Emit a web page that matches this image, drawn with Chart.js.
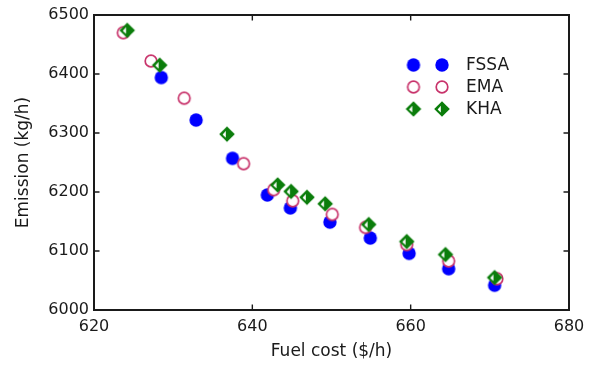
<!DOCTYPE html>
<html>
<head>
<meta charset="utf-8">
<script src="https://cdn.jsdelivr.net/npm/chart.js@4.4.1/dist/chart.umd.min.js"></script>
<style>
  html, body { margin: 0; padding: 0; background: #fff; }
  #wrap { width: 592px; height: 365px; }
</style>
</head>
<body>
<div id="wrap"><canvas id="paretoChart" width="592" height="365"></canvas></div>
<script>
// パレート解 (燃料費 vs 排出量)
const seriesNames = ['FSSA', 'EMA', 'KHA'];

const fssaCost = [628.5, 632.9, 637.5, 641.9, 644.8, 649.8, 654.9, 659.8, 664.8, 670.6];
const fssaEmission = [6394, 6322, 6257, 6195, 6173, 6149, 6122, 6096, 6070, 6042];

const emaCost = [623.7, 627.2, 631.4, 638.9, 642.7, 645.1, 650.1, 654.3, 659.5, 664.8, 670.9];
const emaEmission = [6470, 6422, 6359, 6248, 6204, 6185, 6162, 6140, 6111, 6083, 6053];

const khaCost = [624.2, 628.3, 636.8, 643.2, 644.9, 646.9, 649.2, 654.7, 659.5, 664.4, 670.6];
const khaEmission = [6474, 6415, 6298, 6212, 6201, 6191, 6180, 6145, 6116, 6094, 6055];

const xTicks = [620, 640, 660, 680];
const yTicks = [6000, 6100, 6200, 6300, 6400, 6500];

const FONT = "'DejaVu Sans', Verdana, sans-serif";
const INK = '#1a1a1a';

// マーカー画像 (凡例と散布点で共用)
function makeMarker(kind) {
  const c = document.createElement('canvas');
  c.width = 20;
  c.height = 20;
  const g = c.getContext('2d');
  const cx = 10, cy = 10;
  if (kind === 'FSSA') {
    g.fillStyle = '#0000ff';
    g.beginPath();
    g.arc(cx, cy, 6.7, 0, Math.PI * 2);
    g.fill();
  } else if (kind === 'EMA') {
    g.fillStyle = '#ffffff';
    g.strokeStyle = '#c8336b';
    g.lineWidth = 1.7;
    g.beginPath();
    g.arc(cx, cy, 5.8, 0, Math.PI * 2);
    g.fill();
    g.stroke();
  } else {
    g.fillStyle = '#0b7d0b';
    g.beginPath();
    g.moveTo(cx, cy - 7.8);
    g.lineTo(cx + 7.8, cy);
    g.lineTo(cx, cy + 7.8);
    g.lineTo(cx - 7.8, cy);
    g.closePath();
    g.fill();
    // 左側の白い切り欠き
    g.fillStyle = '#ffffff';
    g.beginPath();
    g.moveTo(cx - 1.2, cy - 3.2);
    g.lineTo(cx - 1.2, cy + 3.6);
    g.lineTo(cx - 4.4, cy + 0.4);
    g.closePath();
    g.fill();
  }
  return c;
}

const markers = {
  FSSA: makeMarker('FSSA'),
  EMA: makeMarker('EMA'),
  KHA: makeMarker('KHA')
};

const toPoints = (xs, ys) => xs.map((x, i) => ({ x: x, y: ys[i] }));

// 枠線と内向きの目盛り
const frameTicks = {
  id: 'frameTicks',
  afterDraw(chart) {
    const { ctx, chartArea: a, scales } = chart;
    const len = 5.5;
    ctx.save();
    ctx.strokeStyle = INK;
    ctx.lineWidth = 1.4;
    ctx.beginPath();
    xTicks.forEach(v => {
      const px = scales.x.getPixelForValue(v);
      ctx.moveTo(px, a.bottom);
      ctx.lineTo(px, a.bottom - len);
      ctx.moveTo(px, a.top);
      ctx.lineTo(px, a.top + len);
    });
    yTicks.forEach(v => {
      const py = scales.y.getPixelForValue(v);
      ctx.moveTo(a.left, py);
      ctx.lineTo(a.left + len, py);
      ctx.moveTo(a.right, py);
      ctx.lineTo(a.right - len, py);
    });
    ctx.stroke();
    ctx.lineWidth = 2;
    ctx.strokeRect(a.left, a.top, a.right - a.left, a.bottom - a.top);
    ctx.restore();
  }
};

// 凡例 (各系列マーカー2個 + ラベル)
const pairLegend = {
  id: 'pairLegend',
  afterDraw(chart) {
    const { ctx } = chart;
    const x1 = 413.5, x2 = 442, tx = 466;
    const rowY = [65, 87, 109];
    ctx.save();
    ctx.font = '17px ' + FONT;
    ctx.fillStyle = INK;
    ctx.textBaseline = 'middle';
    ctx.textAlign = 'left';
    seriesNames.forEach((name, i) => {
      const m = markers[name];
      ctx.drawImage(m, x1 - m.width / 2, rowY[i] - m.height / 2);
      ctx.drawImage(m, x2 - m.width / 2, rowY[i] - m.height / 2);
      ctx.fillText(name, tx, rowY[i] + 1);
    });
    ctx.restore();
  }
};

const ctx = document.getElementById('paretoChart').getContext('2d');

new Chart(ctx, {
  type: 'scatter',
  data: {
    datasets: [
      {
        label: seriesNames[0],
        data: toPoints(fssaCost, fssaEmission),
        pointStyle: markers.FSSA,
        order: 3
      },
      {
        label: seriesNames[1],
        data: toPoints(emaCost, emaEmission),
        pointStyle: markers.EMA,
        order: 2
      },
      {
        label: seriesNames[2],
        data: toPoints(khaCost, khaEmission),
        pointStyle: markers.KHA,
        order: 1
      }
    ]
  },
  options: {
    responsive: false,
    animation: false,
    devicePixelRatio: 1,
    layout: { padding: { left: 0, right: 23, top: 15, bottom: 0 } },
    plugins: {
      legend: { display: false },
      tooltip: { enabled: false }
    },
    scales: {
      x: {
        type: 'linear',
        min: 620,
        max: 680,
        afterBuildTicks: (s) => { s.ticks = xTicks.map(v => ({ value: v })); },
        afterFit: (s) => { s.height = 55; },
        grid: { display: false, drawTicks: false },
        border: { display: false },
        ticks: {
          color: INK,
          font: { family: FONT, size: 16 },
          padding: 7,
          maxRotation: 0,
          callback: (v) => String(v)
        },
        title: {
          display: true,
          text: 'Fuel cost ($/h)',
          color: INK,
          font: { family: FONT, size: 17 },
          padding: { top: 0, bottom: 3 }
        }
      },
      y: {
        type: 'linear',
        min: 6000,
        max: 6500,
        afterBuildTicks: (s) => { s.ticks = yTicks.map(v => ({ value: v })); },
        afterFit: (s) => { s.width = 94; },
        grid: { display: false, drawTicks: false },
        border: { display: false },
        ticks: {
          color: INK,
          font: { family: FONT, size: 16 },
          padding: 5,
          callback: (v) => String(v)
        },
        title: {
          display: true,
          text: 'Emission (kg/h)',
          color: INK,
          font: { family: FONT, size: 17 },
          padding: { top: 13, bottom: 0 }
        }
      }
    }
  },
  plugins: [frameTicks, pairLegend]
});
</script>
</body>
</html>
